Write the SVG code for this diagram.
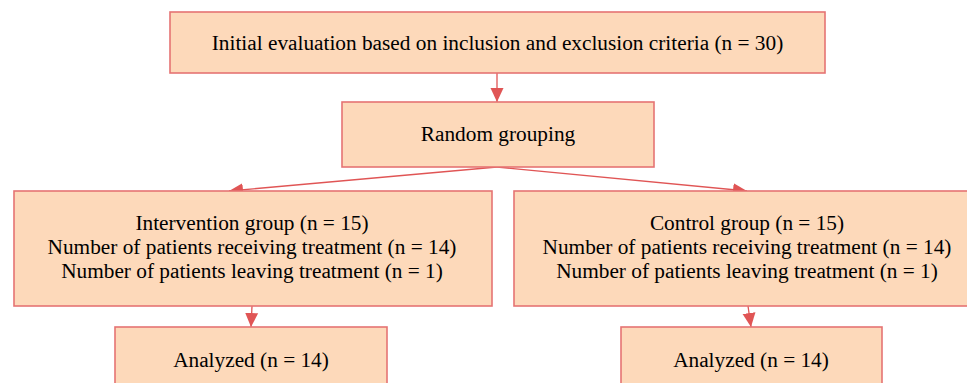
<svg xmlns="http://www.w3.org/2000/svg" width="967" height="383" viewBox="0 0 967 383">
<defs>
<style>
.box{fill:#FDD9BA;stroke:#E57373;stroke-width:1.6}
.t{font-family:"Liberation Serif","Times New Roman",serif;font-size:21.3px;fill:#000;text-anchor:middle}
.c{stroke:#E05555;stroke-width:1.3;fill:none}
</style>
<marker id="ah" viewBox="0 0 14 14" refX="14" refY="7" markerWidth="14" markerHeight="14" markerUnits="userSpaceOnUse" orient="auto"><path d="M0,0.5 L14,7 L0,13.5 z" fill="#E05555"/></marker>
</defs>
<rect width="967" height="383" fill="#fff"/>
<g id="connectors">
<line class="c" x1="497" y1="73" x2="497" y2="102" marker-end="url(#ah)"/>
<line class="c" x1="497" y1="167" x2="229" y2="191" marker-end="url(#ah)"/>
<line class="c" x1="497" y1="167" x2="747" y2="191" marker-end="url(#ah)"/>
<line class="c" x1="252" y1="306" x2="251" y2="327" marker-end="url(#ah)"/>
<line class="c" x1="748" y1="306" x2="751" y2="327" marker-end="url(#ah)"/>
</g>
<g id="initial">
<rect class="box" x="170" y="12" width="655" height="61"/>
<text class="t" x="497.5" y="50">Initial evaluation based on inclusion and exclusion criteria (n = 30)</text>
</g>
<g id="random">
<rect class="box" x="342" y="102" width="312" height="65"/>
<text class="t" x="498" y="141">Random grouping</text>
</g>
<g id="intervention">
<rect class="box" x="14" y="191" width="478" height="115"/>
<text class="t" x="252" y="230">Intervention group (n = 15)</text>
<text class="t" x="252" y="254">Number of patients receiving treatment (n = 14)</text>
<text class="t" x="252" y="278">Number of patients leaving treatment (n = 1)</text>
</g>
<g id="control">
<rect class="box" x="514" y="191" width="470" height="115"/>
<text class="t" x="747" y="230">Control group (n = 15)</text>
<text class="t" x="747" y="254">Number of patients receiving treatment (n = 14)</text>
<text class="t" x="747" y="278">Number of patients leaving treatment (n = 1)</text>
</g>
<g id="analyzed-left">
<rect class="box" x="115" y="327" width="272" height="70"/>
<text class="t" x="251" y="367">Analyzed (n = 14)</text>
</g>
<g id="analyzed-right">
<rect class="box" x="621" y="327" width="261" height="70"/>
<text class="t" x="751" y="367">Analyzed (n = 14)</text>
</g>
</svg>
